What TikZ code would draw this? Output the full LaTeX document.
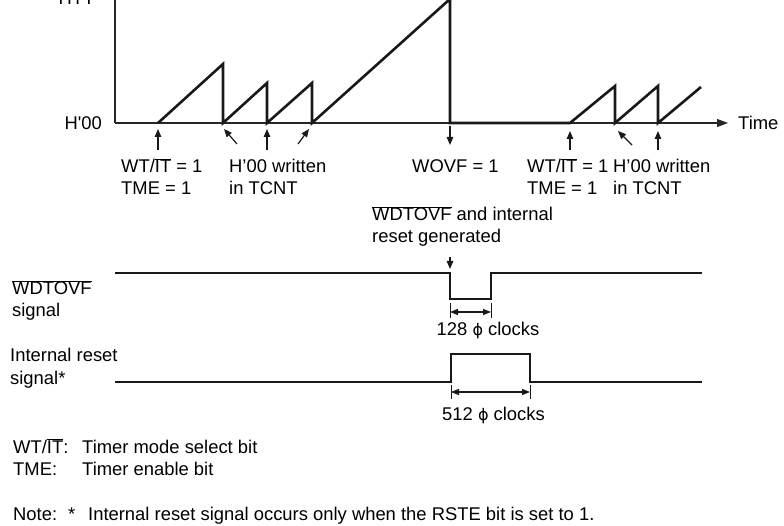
\documentclass[tikz,border=0pt]{standalone}
\usepackage{fontspec}
\setmainfont{Liberation Sans}
\newfontfamily\phifont{DejaVu Sans}
\usetikzlibrary{arrows.meta,calc}
\newcommand{\clk}{{\phifont\fontsize{16}{22}\selectfont ϕ}}
\newcommand{\ovl}[1]{$\overline{\mbox{#1}}$}

\begin{document}
\begin{tikzpicture}[x=1pt,y=-1pt,font=\fontsize{18.4}{22}\selectfont,txt/.style={anchor=base west,inner sep=0pt,align=left},axis/.style={draw=black!85,line width=1.1pt},signal/.style={draw=black!90,line width=2.6pt},every edge/.style={draw=black!90,line width=1.2pt,-{Triangle[length=8pt,width=6.5pt]}},dim/.style={draw=black!90,line width=1.2pt,{Triangle[length=8pt,width=6pt]}-{Triangle[length=8pt,width=6pt]}},tick/.style={draw=black!90,line width=1pt}]
\useasboundingbox (0,0) rectangle (784,526);
% counter axes
\coordinate (org) at (115,123);
\coordinate (tend) at (728,123);
\draw[axis] (115,-10) -- (org);
\draw[axis,-{Triangle[length=11pt,width=8pt]}] (org) -- (tend);
\node[txt,anchor=base east] (hff) at (98,5) {H\textquotesingle FF};
\node[txt,anchor=base east] (h00) at (102,130) {H\textquotesingle 00};
\node[txt] (time) at (738,130) {Time};
% count events on the time axis
\coordinate (s0) at (158,123);
\coordinate (s1) at (223,123);
\coordinate (s2) at (267,123);
\coordinate (s3) at (312,123);
\coordinate (ovf) at (450,123);
\coordinate (s4) at (570,123);
\coordinate (s5) at (615,123);
\coordinate (s6) at (658,123);
\draw[signal] (s0) -- (223,64) -- (s1) -- (267,83) -- (s2) -- (312,83) -- (s3) -- (450,-1) -- (ovf) -- (s4) -- (615,86) -- (s5) -- (658,86) -- (s6) -- (701,87);
% multi-line texts sit on the baseline of their last line
\node[txt] (wtl) at (121,195) {WT/\ovl{IT} = 1\\TME = 1};
\node[txt] (wrl) at (229,195) {H’00 written\\in TCNT};
\node[txt] (wovf) at (412,173) {WOVF = 1};
\node[txt] (wtr) at (527,195) {WT/\ovl{IT} = 1\\TME = 1};
\node[txt] (wrr) at (613,195) {H’00 written\\in TCNT};
\path ($(s0)+(0,27)$) edge ($(s0)+(0,6)$);
\path ($(s1)+(14,21)$) edge ($(s1)+(1,6)$);
\path ($(s2)+(0,27)$) edge ($(s2)+(0,6)$);
\path ($(s3)+(-14,21)$) edge ($(s3)+(-3,6)$);
\path ($(ovf)+(0,3)$) edge ($(ovf)+(0,22)$);
\path ($(s4)+(0,27)$) edge ($(s4)+(0,8)$);
\path ($(s5)+(17,22)$) edge ($(s5)+(3,8)$);
\path ($(s6)+(0,27)$) edge ($(s6)+(0,8)$);
% WDTOVF signal
\node[txt] (gen) at (372,243) {\ovl{WDTOVF} and internal\\reset generated};
\node[txt] (wdsig) at (12,317) {\ovl{WDTOVF}\\signal};
\coordinate (wd0) at (450,273);
\coordinate (wd1) at (491,273);
\draw[signal] (115,273) -- (wd0) -- (450,299) -- (491,299) -- (wd1) -- (702,273);
\path ($(wd0)+(0,-16)$) edge ($(wd0)+(0,-4)$);
\draw[tick] ($(wd0)+(0,30)$) -- ($(wd0)+(0,45)$);
\draw[tick] ($(wd1)+(0,30)$) -- ($(wd1)+(0,45)$);
\draw[dim] ($(wd0)+(0,39)$) -- ($(wd1)+(0,39)$);
\node[anchor=base,inner sep=0pt] (c128) at (488,336) {128 \clk{} clocks};
% internal reset signal
\node[txt] (rssig) at (10,384) {Internal reset\\signal*};
\coordinate (rs0) at (451,382);
\coordinate (rs1) at (530,382);
\draw[signal] (115,382) -- (rs0) -- (451,354) -- (530,354) -- (rs1) -- (702,382);
\draw[tick] ($(rs0)+(0,3)$) -- ($(rs0)+(0,17)$);
\draw[tick] ($(rs1)+(0,3)$) -- ($(rs1)+(0,17)$);
\draw[dim] ($(rs0)+(0,10)$) -- ($(rs1)+(0,10)$);
\node[anchor=base,inner sep=0pt] (c512) at (493.5,420) {512 \clk{} clocks};
% legend and note
\node[txt] (legend) at (13,453) {\begin{tabular}[t]{@{}p{69pt}@{}l@{}}WT/\ovl{IT}: & Timer mode select bit\\TME: & Timer enable bit\end{tabular}};
\node[txt] (note) at (13,520) {\makebox[55pt][l]{Note:}\makebox[20pt][l]{*}Internal reset signal occurs only when the RSTE bit is set to 1.};
\end{tikzpicture}
\end{document}
